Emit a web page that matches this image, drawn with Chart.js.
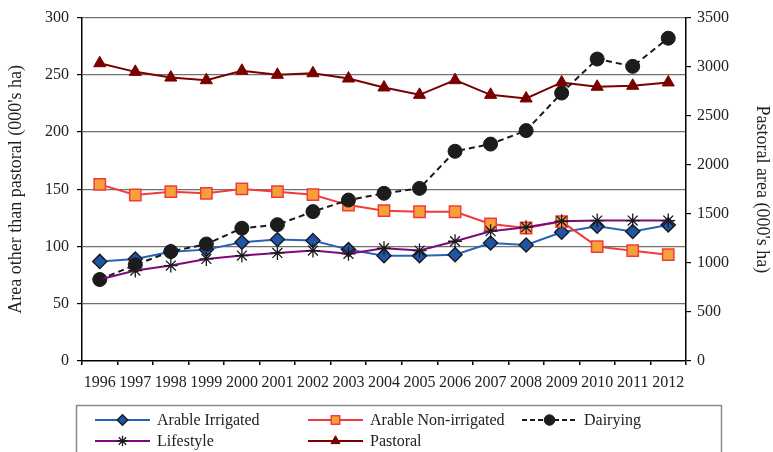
<!DOCTYPE html>
<html>
<head>
<meta charset="utf-8">
<script src="https://cdn.jsdelivr.net/npm/chart.js@4.4.1/dist/chart.umd.min.js"></script>
<style>
  html, body { margin: 0; padding: 0; background: #fff; }
  #wrap { width: 773px; height: 452px; }
</style>
</head>
<body>
<div id="wrap"><canvas id="c" width="773" height="452"></canvas></div>
<script>
// Land use areas by year (000's ha)
const years = ['1996','1997','1998','1999','2000','2001','2002','2003','2004','2005','2006','2007','2008','2009','2010','2011','2012'];
const arableIrrigated    = [87.0, 89.1, 95.5, 97.3, 103.7, 106.1, 105.2, 97.3, 92.0, 92.0, 92.9, 103.1, 101.3, 112.5, 117.7, 113.1, 118.9];
const arableNonIrrigated = [154.3, 145.0, 147.9, 146.5, 150.3, 147.9, 145.3, 136.2, 131.3, 130.4, 130.4, 119.7, 116.2, 121.8, 99.9, 96.4, 92.9];
const dairying           = [71.2, 84.0, 95.6, 102.2, 116.0, 119.1, 130.5, 140.6, 146.5, 150.8, 183.2, 189.5, 201.3, 234.1, 263.8, 257.4, 282.0];
const lifestyle          = [71.2, 79.0, 83.4, 89.2, 92.1, 94.4, 96.5, 93.6, 98.5, 96.5, 104.6, 113.4, 116.9, 122.1, 122.7, 122.7, 122.7];
const pastoral           = [3035, 2947, 2889, 2862, 2958, 2917, 2933, 2879, 2788, 2713, 2862, 2713, 2676, 2839, 2795, 2805, 2839];

const leftTicks  = { min: 0, max: 300, step: 50 };
const rightTicks = { min: 0, max: 3500, step: 500 };

const FONT = "'Liberation Serif', 'Times New Roman', serif";

const datasets = [
  { label: 'Arable Irrigated', data: arableIrrigated, yAxisID: 'y', order: 4,
    borderColor: '#2a63b5', borderWidth: 2,
    pointStyle: 'rectRot', pointRadius: 7, pointBackgroundColor: '#1f55a6',
    pointBorderColor: '#1b1b26', pointBorderWidth: 1.5 },
  { label: 'Arable Non-irrigated', data: arableNonIrrigated, yAxisID: 'y', order: 3,
    borderColor: '#f23a3a', borderWidth: 2,
    pointStyle: 'rect', pointRadius: 8, pointBackgroundColor: '#f6a03a',
    pointBorderColor: '#f23a3a', pointBorderWidth: 1.5 },
  { label: 'Dairying', data: dairying, yAxisID: 'y', order: 2,
    borderColor: '#1a1a1a', borderWidth: 2, borderDash: [6, 4],
    pointStyle: 'circle', pointRadius: 7, pointBackgroundColor: '#1c1c1c',
    pointBorderColor: '#1c1c1c', pointBorderWidth: 1 },
  { label: 'Lifestyle', data: lifestyle, yAxisID: 'y', order: 1,
    borderColor: '#7d0a7d', borderWidth: 2,
    pointStyle: 'star', pointRadius: 7, pointBackgroundColor: '#1a1a1a',
    pointBorderColor: '#1a1a1a', pointBorderWidth: 1.3 },
  { label: 'Pastoral', data: pastoral, yAxisID: 'y2', order: 5,
    borderColor: '#7a0000', borderWidth: 2,
    pointStyle: 'triangle', pointRadius: 7, pointBackgroundColor: '#7a0000',
    pointBorderColor: '#7a0000', pointBorderWidth: 1 }
];
datasets.forEach(d => { d.fill = false; d.tension = 0; d.pointHoverRadius = d.pointRadius; });

// Boxed two-row legend below the axes
const legendSlots = [
  { x: 95,  y: 420 }, { x: 308, y: 420 }, { x: 522, y: 420 },
  { x: 95,  y: 441 }, { x: 308, y: 441 }
];
const boxedLegend = {
  id: 'boxedLegend',
  afterDraw(chart) {
    const ctx = chart.ctx;
    ctx.save();
    ctx.strokeStyle = '#8a8a8a';
    ctx.lineWidth = 1.5;
    ctx.strokeRect(76.5, 405.5, 645, 60);
    chart.data.datasets.forEach((ds, k) => {
      const s = legendSlots[k];
      ctx.save();
      ctx.strokeStyle = ds.borderColor;
      ctx.lineWidth = ds.borderWidth;
      ctx.setLineDash(ds.borderDash ? [5, 3] : []);
      ctx.beginPath();
      ctx.moveTo(s.x, s.y);
      ctx.lineTo(s.x + 55, s.y);
      ctx.stroke();
      ctx.restore();
      const opts = {
        pointStyle: ds.pointStyle,
        radius: ds.pointRadius * 0.75,
        rotation: 0,
        borderWidth: ds.pointBorderWidth
      };
      ctx.save();
      ctx.fillStyle = ds.pointBackgroundColor;
      ctx.strokeStyle = ds.pointBorderColor;
      ctx.lineWidth = ds.pointBorderWidth;
      Chart.helpers.drawPoint(ctx, opts, s.x + 27.5, s.y);
      ctx.restore();
      ctx.fillStyle = '#222';
      ctx.font = '16px ' + FONT;
      ctx.textBaseline = 'middle';
      ctx.textAlign = 'left';
      ctx.fillText(ds.label, s.x + 62, s.y + 1);
    });
    ctx.restore();
  }
};

const whiteBg = {
  id: 'whiteBg',
  beforeDraw(chart) {
    const ctx = chart.ctx;
    ctx.save();
    ctx.fillStyle = '#fff';
    ctx.fillRect(0, 0, chart.width, chart.height);
    ctx.restore();
  }
};

const plainNumber = v => String(v);

new Chart(document.getElementById('c'), {
  type: 'line',
  data: { labels: years, datasets },
  plugins: [whiteBg, boxedLegend],
  options: {
    responsive: false,
    animation: false,
    devicePixelRatio: 1,
    layout: { padding: { top: 13, left: 0, right: 0, bottom: 48 } },
    plugins: { legend: { display: false }, tooltip: { enabled: false } },
    scales: {
      x: {
        offset: true,
        grid: { offset: true, drawOnChartArea: false, tickLength: 4, tickColor: '#000', lineWidth: 1.5 },
        border: { color: '#000', width: 1.5 },
        ticks: { color: '#222', font: { family: FONT, size: 16 }, padding: 8, maxRotation: 0, autoSkip: false },
        afterFit(scale) { scale.height = 43; }
      },
      y: {
        position: 'left',
        min: leftTicks.min, max: leftTicks.max,
        ticks: { stepSize: leftTicks.step, color: '#222', font: { family: FONT, size: 16 }, padding: 8, callback: plainNumber },
        grid: {
          color: c => (c.tick && c.tick.value === 0) ? 'rgba(0,0,0,0)' : '#707070',
          lineWidth: 1.2, tickLength: 5, tickColor: '#000'
        },
        border: { color: '#000', width: 1.5 },
        title: { display: true, text: "Area other than pastoral (000's ha)", color: '#222',
                 font: { family: FONT, size: 18 }, padding: { top: 5, bottom: 0 } },
        afterFit(scale) { scale.width = 82; }
      },
      y2: {
        position: 'right',
        min: rightTicks.min, max: rightTicks.max,
        ticks: { stepSize: rightTicks.step, color: '#222', font: { family: FONT, size: 16 }, padding: 6, callback: plainNumber },
        grid: { drawOnChartArea: false, tickLength: 5, tickColor: '#000', lineWidth: 1.2 },
        border: { color: '#000', width: 1.5 },
        title: { display: true, text: "Pastoral area (000's ha)", color: '#222',
                 font: { family: FONT, size: 18 }, padding: { top: 0, bottom: 2 } },
        afterFit(scale) { scale.width = 87; }
      }
    }
  }
});
</script>
</body>
</html>
